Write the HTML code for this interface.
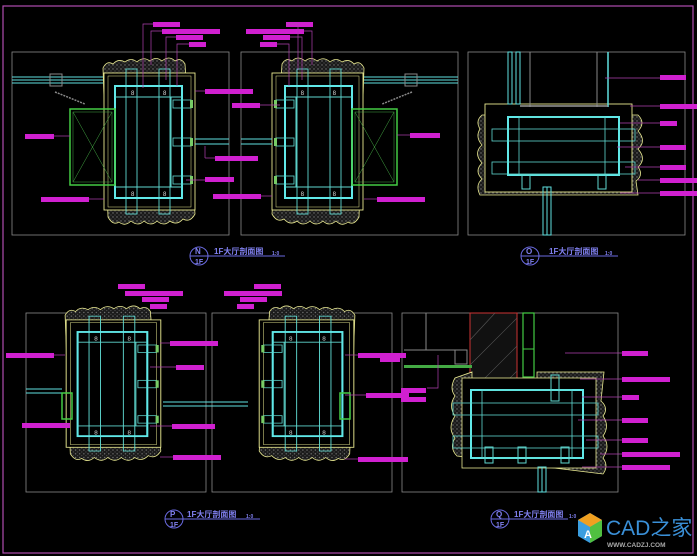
<!DOCTYPE html>
<html><head><meta charset="utf-8"><style>
html,body{margin:0;padding:0;background:#000;}
svg{display:block}
text{font-family:"Liberation Sans","Noto Sans CJK SC",sans-serif;}
</style></head><body>
<svg width="697" height="556" viewBox="0 0 697 556" xmlns="http://www.w3.org/2000/svg">
<defs>
<pattern id="h" width="4" height="4" patternUnits="userSpaceOnUse">
<rect width="4" height="4" fill="#1a1a1a"/><circle cx="1" cy="1" r="0.7" fill="#777"/><circle cx="3" cy="3" r="0.6" fill="#555"/>
</pattern>
<g id="col">
<path d="M103,68 q4,-8 10,-4 q5,-6 12,-2 q6,-5 12,0 q6,-6 13,-1 q6,-5 12,0 q7,-6 13,0 q6,-4 10,3 L195,214 q-5,9 -12,5 q-6,7 -13,2 q-6,6 -13,0 q-6,6 -13,0 q-6,6 -13,0 q-6,6 -12,1 q-6,4 -11,-5 Z" fill="url(#h)" stroke="#e8e890" stroke-width="0.8"/>
<rect x="104" y="73" width="91" height="137" fill="#000" stroke="#e8e890" stroke-width="0.9"/>
<rect x="108" y="76" width="83" height="131" fill="none" stroke="#e8e890" stroke-width="0.5"/>
<rect x="126" y="69" width="11" height="145" fill="none" stroke="#5fd8d0" stroke-width="0.9"/>
<rect x="159" y="69" width="11" height="145" fill="none" stroke="#5fd8d0" stroke-width="0.9"/>
<rect x="115" y="86" width="67" height="112" fill="none" stroke="#60e8e8" stroke-width="2"/>
<line x1="115" y1="97" x2="182" y2="97" stroke="#5fd8d0"/>
<line x1="115" y1="187" x2="182" y2="187" stroke="#5fd8d0"/>
<line x1="171" y1="97" x2="171" y2="187" stroke="#5fd8d0"/>
<rect x="173" y="100" width="18" height="8" fill="none" stroke="#5fd8d0" stroke-width="0.8"/>
<rect x="173" y="138" width="18" height="8" fill="none" stroke="#5fd8d0" stroke-width="0.8"/>
<rect x="173" y="176" width="18" height="8" fill="none" stroke="#5fd8d0" stroke-width="0.8"/>
<rect x="190" y="100" width="3" height="8" fill="#7c6"/><rect x="190" y="138" width="3" height="8" fill="#7c6"/><rect x="190" y="176" width="3" height="8" fill="#7c6"/>
<text x="131" y="95" font-size="6" fill="#ddd">8</text><text x="163" y="95" font-size="6" fill="#ddd">8</text>
<text x="131" y="196" font-size="6" fill="#ddd">8</text><text x="163" y="196" font-size="6" fill="#ddd">8</text>
</g>
</defs>

<!-- outer frame -->
<rect x="3" y="6" width="690" height="547" fill="none" stroke="#b04cb0" stroke-width="1.2"/>

<!-- panels -->
<g fill="none" stroke="#8a8a8a" stroke-width="0.8">
<rect x="12" y="52" width="217" height="183"/>
<rect x="241" y="52" width="217" height="183"/>
<rect x="468" y="52" width="217" height="183"/>
<rect x="26" y="313" width="180" height="179"/>
<rect x="212" y="313" width="180" height="179"/>
<rect x="402" y="313" width="216" height="179"/>
</g>

<!-- top columns -->
<use href="#col"/>
<use href="#col" transform="translate(467,0) scale(-1,1)"/>
<!-- rails -->
<g stroke="#60e0e0" stroke-width="0.9">
<line x1="12" y1="77" x2="103" y2="77"/><line x1="12" y1="80" x2="103" y2="80"/><line x1="12" y1="83" x2="103" y2="83"/>
<line x1="364" y1="77" x2="458" y2="77"/><line x1="364" y1="80" x2="458" y2="80"/><line x1="364" y1="83" x2="458" y2="83"/>
<line x1="195" y1="139" x2="229" y2="139"/><line x1="195" y1="144" x2="229" y2="144"/>
<line x1="241" y1="139" x2="272" y2="139"/><line x1="241" y1="144" x2="272" y2="144"/>
</g>
<line x1="55" y1="92" x2="85" y2="104" stroke="#888" stroke-width="1.5" stroke-dasharray="2,1"/>
<rect x="50" y="74" width="12" height="12" fill="none" stroke="#888"/>
<line x1="412" y1="92" x2="382" y2="104" stroke="#888" stroke-width="1.5" stroke-dasharray="2,1"/>
<rect x="405" y="74" width="12" height="12" fill="none" stroke="#888"/>
<!-- green boxes -->
<g fill="none" stroke="#4c4" stroke-width="1.5">
<rect x="70" y="109" width="45" height="76"/><rect x="352" y="109" width="45" height="76"/>
</g>
<g stroke="#4a4" stroke-width="0.5">
<rect x="73" y="112" width="39" height="70" fill="none"/><line x1="73" y1="112" x2="112" y2="182"/><line x1="112" y1="112" x2="73" y2="182"/>
<rect x="355" y="112" width="39" height="70" fill="none"/><line x1="355" y1="112" x2="394" y2="182"/><line x1="394" y1="112" x2="355" y2="182"/>
</g>

<!-- bottom columns -->
<use href="#col" transform="translate(-42,252) scale(1.04,0.93)"/>
<use href="#col" transform="translate(462,252) scale(-1.04,0.93)"/>
<g stroke="#60e0e0" stroke-width="0.9">
<line x1="26" y1="389" x2="62" y2="389"/><line x1="26" y1="393" x2="62" y2="393"/>
<line x1="163" y1="402" x2="248" y2="402"/><line x1="163" y1="406" x2="248" y2="406"/>
</g>
<rect x="62" y="393" width="10" height="26" fill="none" stroke="#4c4" stroke-width="1.5"/>
<rect x="340" y="393" width="10" height="26" fill="none" stroke="#4c4" stroke-width="1.5"/>

<!-- panel 3: horizontal column -->
<g>
<path d="M480,195 q-5,-10 2,-16 q-8,-8 0,-16 q-9,-10 0,-18 q-7,-8 -2,-16 q-5,-8 2,-14 L638,115 q8,8 0,16 q9,10 0,18 q9,10 0,18 q6,8 -2,14 L638,195 Z" fill="url(#h)" stroke="#e8e890" stroke-width="0.8"/>
<rect x="485" y="104" width="147" height="88" fill="#000" stroke="#e8e890" stroke-width="0.9"/>
<rect x="508" y="52" width="4" height="52" fill="none" stroke="#60e0e0"/>
<rect x="516" y="52" width="4" height="52" fill="none" stroke="#60e0e0"/>
<line x1="530" y1="52" x2="530" y2="107" stroke="#888"/><line x1="597" y1="52" x2="597" y2="107" stroke="#888"/>
<line x1="608" y1="52" x2="608" y2="107" stroke="#60e0e0" stroke-width="1.5"/>
<line x1="520" y1="106" x2="608" y2="106" stroke="#999" stroke-width="1.5"/>
<rect x="508" y="117" width="111" height="58" fill="none" stroke="#60e8e8" stroke-width="2"/>
<rect x="492" y="129" width="143" height="12" fill="none" stroke="#5fd8d0" stroke-width="0.8"/>
<rect x="492" y="162" width="143" height="12" fill="none" stroke="#5fd8d0" stroke-width="0.8"/>
<rect x="519" y="117" width="86" height="58" fill="none" stroke="#5fd8d0" stroke-width="0.8"/>
<rect x="522" y="175" width="8" height="14" fill="none" stroke="#5fd8d0"/><rect x="598" y="175" width="8" height="14" fill="none" stroke="#5fd8d0"/>
<rect x="543" y="187" width="4" height="48" fill="none" stroke="#60e0e0"/><rect x="547" y="187" width="4" height="48" fill="none" stroke="#60e0e0"/>
</g>

<!-- panel 6 -->
<g>
<rect x="470" y="313" width="47" height="75" fill="#111" stroke="#c33"/>
<g stroke="#555" stroke-width="0.6"><line x1="470" y1="340" x2="495" y2="313"/><line x1="470" y1="365" x2="517" y2="318"/><line x1="475" y1="388" x2="517" y2="346"/><line x1="500" y1="388" x2="517" y2="371"/></g>
<rect x="523" y="313" width="11" height="64" fill="none" stroke="#4c4" stroke-width="1.2"/>
<line x1="523" y1="349" x2="534" y2="349" stroke="#4c4"/>
<rect x="404" y="365" width="68" height="3" fill="#4a4"/>
<rect x="455" y="350" width="12" height="14" fill="none" stroke="#888"/>
<line x1="404" y1="350" x2="455" y2="350" stroke="#888"/>
<line x1="426" y1="313" x2="426" y2="350" stroke="#888"/>
<path d="M455,378 q-6,10 0,18 q-7,10 0,20 q-8,12 0,22 q-6,10 2,18 L603,474 q6,-8 0,-16 q8,-12 0,-22 q7,-10 0,-20 q6,-8 -2,-15 L604,372 L537,372 L537,395 L472,395 L472,372 Z" fill="url(#h)" stroke="#e8e890" stroke-width="0.8"/>
<rect x="462" y="378" width="134" height="90" fill="#000" stroke="#e8e890" stroke-width="0.8"/>
<rect x="471" y="390" width="112" height="68" fill="none" stroke="#60e8e8" stroke-width="2"/>
<rect x="453" y="403" width="145" height="12" fill="none" stroke="#5fd8d0" stroke-width="0.8"/>
<rect x="453" y="436" width="145" height="12" fill="none" stroke="#5fd8d0" stroke-width="0.8"/>
<rect x="482" y="390" width="90" height="68" fill="none" stroke="#5fd8d0" stroke-width="0.8"/>
<rect x="551" y="375" width="8" height="26" fill="none" stroke="#5fd8d0"/>
<rect x="485" y="447" width="8" height="16" fill="none" stroke="#5fd8d0"/><rect x="518" y="447" width="8" height="16" fill="none" stroke="#5fd8d0"/><rect x="561" y="447" width="8" height="16" fill="none" stroke="#5fd8d0"/>
<rect x="538" y="467" width="4" height="25" fill="none" stroke="#60e0e0"/><rect x="542" y="467" width="4" height="25" fill="none" stroke="#60e0e0"/>
</g>

<!-- magenta labels -->
<g fill="#d020d0">
<rect x="153" y="22" width="27" height="5"/><rect x="162" y="29" width="58" height="5"/><rect x="176" y="35" width="27" height="5"/><rect x="189" y="42" width="17" height="5"/>
<rect x="205" y="89" width="48" height="5"/><rect x="232" y="103" width="28" height="5"/><rect x="215" y="156" width="43" height="5"/><rect x="205" y="177" width="29" height="5"/><rect x="213" y="194" width="48" height="5"/>
<rect x="25" y="134" width="29" height="5"/><rect x="41" y="197" width="48" height="5"/>
<rect x="286" y="22" width="27" height="5"/><rect x="246" y="29" width="58" height="5"/><rect x="263" y="35" width="27" height="5"/><rect x="260" y="42" width="17" height="5"/>
<rect x="410" y="133" width="30" height="5"/><rect x="377" y="197" width="48" height="5"/>
<rect x="660" y="75" width="26" height="5"/><rect x="660" y="104" width="40" height="5"/><rect x="660" y="121" width="17" height="5"/><rect x="660" y="145" width="26" height="5"/><rect x="660" y="165" width="26" height="5"/><rect x="660" y="178" width="40" height="5"/><rect x="660" y="191" width="40" height="5"/>
<rect x="118" y="284" width="27" height="5"/><rect x="125" y="291" width="58" height="5"/><rect x="142" y="297" width="27" height="5"/><rect x="150" y="304" width="17" height="5"/>
<rect x="170" y="341" width="48" height="5"/><rect x="176" y="365" width="28" height="5"/><rect x="172" y="424" width="43" height="5"/><rect x="173" y="455" width="48" height="5"/>
<rect x="6" y="353" width="48" height="5"/><rect x="22" y="423" width="48" height="5"/>
<rect x="254" y="284" width="27" height="5"/><rect x="224" y="291" width="58" height="5"/><rect x="240" y="297" width="27" height="5"/><rect x="237" y="304" width="17" height="5"/>
<rect x="358" y="353" width="48" height="5"/><rect x="366" y="393" width="43" height="5"/><rect x="358" y="457" width="48" height="5"/>
<rect x="380" y="357" width="20" height="5"/><rect x="401" y="388" width="25" height="5"/><rect x="401" y="397" width="25" height="5"/><rect x="400" y="457" width="8" height="5"/>
<rect x="622" y="351" width="26" height="5"/><rect x="622" y="377" width="48" height="5"/><rect x="622" y="395" width="17" height="5"/><rect x="622" y="418" width="26" height="5"/><rect x="622" y="438" width="26" height="5"/><rect x="622" y="452" width="58" height="5"/><rect x="622" y="465" width="48" height="5"/>
</g>
<g stroke="#b040b0" stroke-width="0.7" fill="none">
<path d="M153,24 H143 V88"/><path d="M162,31 H151 V65"/><path d="M176,37 H166 V80"/><path d="M189,44 H177 V86"/>
<path d="M286,24 H298 V70"/><path d="M304,31 H312 V65"/><path d="M290,37 H302 V80"/><path d="M277,44 H289 V86"/>
<line x1="195" y1="91" x2="205" y2="91"/><line x1="260" y1="105" x2="280" y2="105"/><line x1="205" y1="146" x2="205" y2="158"/><line x1="205" y1="158" x2="215" y2="158"/><line x1="186" y1="180" x2="205" y2="180"/><line x1="261" y1="196" x2="272" y2="196"/>
<line x1="54" y1="136" x2="70" y2="136"/><line x1="89" y1="199" x2="104" y2="199"/><line x1="397" y1="135" x2="410" y2="135"/><line x1="364" y1="199" x2="377" y2="199"/>
<line x1="605" y1="78" x2="660" y2="78"/><line x1="630" y1="106" x2="660" y2="106"/><line x1="620" y1="123" x2="660" y2="123"/><line x1="617" y1="147" x2="660" y2="147"/><line x1="625" y1="167" x2="660" y2="167"/><line x1="638" y1="180" x2="660" y2="180"/><line x1="620" y1="193" x2="660" y2="193"/>
<line x1="54" y1="355" x2="65" y2="355"/><line x1="70" y1="425" x2="62" y2="425"/><line x1="160" y1="343" x2="170" y2="343"/><line x1="150" y1="367" x2="176" y2="367"/><line x1="150" y1="426" x2="172" y2="426"/><line x1="160" y1="457" x2="173" y2="457"/>
<line x1="345" y1="355" x2="358" y2="355"/><line x1="345" y1="395" x2="366" y2="395"/><line x1="345" y1="459" x2="358" y2="459"/>
<line x1="565" y1="353" x2="622" y2="353"/><line x1="580" y1="379" x2="622" y2="379"/><line x1="582" y1="397" x2="622" y2="397"/><line x1="578" y1="420" x2="622" y2="420"/><line x1="586" y1="440" x2="622" y2="440"/><line x1="600" y1="454" x2="622" y2="454"/><line x1="582" y1="467" x2="622" y2="467"/>
<path d="M427,388 H438 V355"/>
</g>

<!-- titles -->
<g fill="none" stroke="#6a6ae0" stroke-width="1">
<circle cx="199" cy="256" r="9"/><line x1="190" y1="256" x2="285" y2="256"/>
<circle cx="530" cy="256" r="9"/><line x1="521" y1="256" x2="618" y2="256"/>
<circle cx="174" cy="519" r="9"/><line x1="165" y1="519" x2="260" y2="519"/>
<circle cx="500" cy="519" r="9"/><line x1="491" y1="519" x2="568" y2="519"/>
</g>
<g fill="#8080f0" font-size="8" font-weight="bold">
<text x="195" y="254">N</text><text x="195" y="264" font-size="7">1F</text><text x="214" y="254">1F大厅剖面图</text><text x="272" y="255" font-size="5">1:0</text>
<text x="526" y="254">O</text><text x="526" y="264" font-size="7">1F</text><text x="549" y="254">1F大厅剖面图</text><text x="605" y="255" font-size="5">1:0</text>
<text x="170" y="517">P</text><text x="170" y="527" font-size="7">1F</text><text x="187" y="517">1F大厅剖面图</text><text x="246" y="518" font-size="5">1:0</text>
<text x="496" y="517">Q</text><text x="496" y="527" font-size="7">1F</text><text x="514" y="517">1F大厅剖面图</text><text x="569" y="518" font-size="5">1:0</text>
</g>

<!-- watermark -->
<g>
<polygon points="578,520 590,513 602,520 602,536 590,543 578,536" fill="#3a9ee0"/>
<polygon points="578,520 590,513 602,520 590,527" fill="#f0a020"/>
<polygon points="590,527 602,520 602,536 590,543" fill="#50c040"/>
<text x="584" y="538" font-size="11" fill="#fff" font-weight="bold">A</text>
<text x="606" y="535" font-size="21" fill="#3a90d8">CAD之家</text>
<text x="607" y="547" font-size="6.5" fill="#aaa" font-weight="bold">WWW.CADZJ.COM</text>
</g>
</svg>
</body></html>
